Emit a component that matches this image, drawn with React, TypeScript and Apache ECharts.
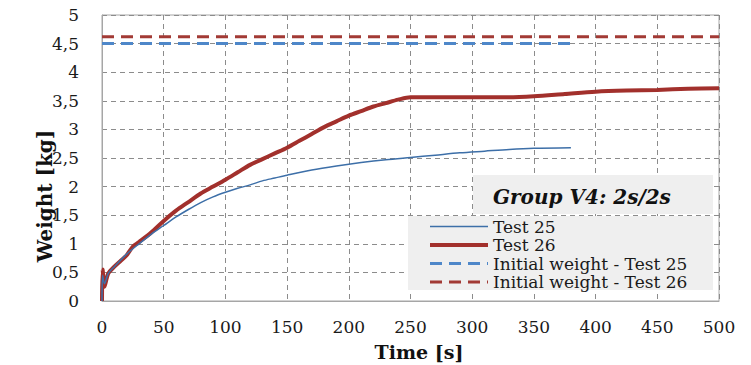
import React, { useEffect, useRef } from "react";
import * as echarts from "echarts";

const xTicks = { min: 0, max: 500, interval: 50 };
const yTicks = { min: 0, max: 5, interval: 0.5 };

const test25: [number, number][] = [
  [0, 0], [0.5, 0.45], [2, 0.3], [5, 0.48], [10, 0.6], [20, 0.82], [30, 1.0], [40, 1.17],
  [50, 1.32], [60, 1.47], [70, 1.6], [80, 1.72], [90, 1.82], [100, 1.9], [110, 1.97],
  [120, 2.03], [130, 2.1], [140, 2.15], [150, 2.2], [170, 2.29], [190, 2.36], [210, 2.42],
  [230, 2.47], [250, 2.51], [270, 2.55], [290, 2.59], [310, 2.62], [330, 2.65], [350, 2.67],
  [380, 2.68],
];

const test26: [number, number][] = [
  [0, 0], [0.5, 0.55], [2, 0.25], [5, 0.48], [10, 0.6], [15, 0.7], [20, 0.8], [25, 0.95],
  [30, 1.03], [40, 1.2], [50, 1.4], [60, 1.58], [70, 1.73], [80, 1.88], [90, 2.0],
  [100, 2.12], [110, 2.25], [120, 2.38], [130, 2.48], [140, 2.58], [150, 2.68], [160, 2.8],
  [170, 2.92], [180, 3.04], [190, 3.14], [200, 3.24], [210, 3.32], [220, 3.4], [230, 3.46],
  [240, 3.52], [250, 3.56], [275, 3.56], [300, 3.56], [325, 3.56], [350, 3.58], [375, 3.62],
  [400, 3.66], [425, 3.68], [450, 3.69], [475, 3.71], [500, 3.72],
];

const initial25: [number, number][] = [[0, 4.5], [380, 4.5]];
const initial26: [number, number][] = [[0, 4.62], [500, 4.62]];

const seriesNames = ["Test 25", "Test 26", "Initial weight - Test 25", "Initial weight - Test 26"];
const titleText = "Group V4: 2s/2s";
const xName = "Time [s]";
const yName = "Weight [kg]";

export default function App() {
  const ref = useRef<HTMLDivElement>(null);
  useEffect(() => {
    if (!ref.current) return;
    const chart = echarts.init(ref.current, null, { renderer: "svg" });
    const font = "'DejaVu Serif', serif";
    chart.setOption({
      animation: false,
      backgroundColor: "#ffffff",
      grid: {
        left: 102, right: 32, top: 15, bottom: 64,
        show: true, borderColor: "#a6a6a6", borderWidth: 1,
      },
      xAxis: {
        type: "value", ...xTicks,
        axisLine: { show: true, lineStyle: { color: "#a6a6a6" } },
        axisTick: { show: false },
        splitLine: { show: true, lineStyle: { color: "#8c8c8c", type: [5, 4], width: 1 } },
        axisLabel: { fontFamily: font, fontSize: 17, color: "#1a1a1a", margin: 17 },
      },
      yAxis: {
        type: "value", ...yTicks,
        axisLine: { show: true, lineStyle: { color: "#a6a6a6" } },
        axisTick: { show: false },
        splitLine: { show: true, lineStyle: { color: "#8c8c8c", type: [5, 4], width: 1 } },
        axisLabel: {
          fontFamily: font, fontSize: 17, color: "#1a1a1a", margin: 23,
          formatter: (v: number) => String(v).replace(".", ","),
        },
      },
      legend: {
        orient: "vertical", left: 428, top: 218, padding: 0,
        itemWidth: 58, itemHeight: 14, itemGap: 1.5, selectedMode: false, z: 20,
        itemStyle: { opacity: 0 },
        textStyle: { fontFamily: font, fontSize: 17, color: "#1a1a1a", lineHeight: 15 },
        data: [
          { name: seriesNames[0], lineStyle: { width: 1.5 } },
          { name: seriesNames[1], lineStyle: { width: 4 } },
          { name: seriesNames[2], lineStyle: { width: 3 } },
          { name: seriesNames[3], lineStyle: { width: 3 } },
        ],
      },
      graphic: [
        { type: "rect", z: 10, shape: { x: 473, y: 175, width: 240, height: 39 }, style: { fill: "#efefef" } },
        { type: "rect", z: 10, shape: { x: 408, y: 216, width: 305, height: 74 }, style: { fill: "#efefef" } },
        {
          type: "text", z: 11, x: 493, y: 197,
          style: { text: titleText, font: `italic bold 20px ${font}`, fill: "#111", textVerticalAlign: "middle" },
        },
        {
          type: "text", z: 11, x: 419, y: 352,
          style: { text: xName, font: `bold 19px ${font}`, fill: "#111", textAlign: "center", textVerticalAlign: "middle" },
        },
        {
          type: "text", z: 11, x: 45, y: 196, rotation: Math.PI / 2,
          style: { text: yName, font: `bold 20px ${font}`, fill: "#111", textAlign: "center", textVerticalAlign: "middle" },
        },
      ],
      series: [
        {
          name: seriesNames[0], type: "line", data: test25, symbol: "none", smooth: 0.3, z: 6,
          lineStyle: { color: "#3d6fa8", width: 1.5 }, itemStyle: { color: "#3d6fa8" },
        },
        {
          name: seriesNames[1], type: "line", data: test26, symbol: "none", smooth: 0.3, z: 5,
          lineStyle: { color: "#a2302c", width: 4 }, itemStyle: { color: "#a2302c" },
        },
        {
          name: seriesNames[2], type: "line", data: initial25, symbol: "none", z: 4,
          lineStyle: { color: "#4e87c9", width: 3, type: [12, 7] }, itemStyle: { color: "#4e87c9" },
        },
        {
          name: seriesNames[3], type: "line", data: initial26, symbol: "none", z: 4,
          lineStyle: { color: "#a23a35", width: 3, type: [12, 7] }, itemStyle: { color: "#a23a35" },
        },
      ],
    });
    return () => chart.dispose();
  }, []);
  return <div ref={ref} style={{ width: 751, height: 365, position: "absolute", left: 0, top: 0 }} />;
}
